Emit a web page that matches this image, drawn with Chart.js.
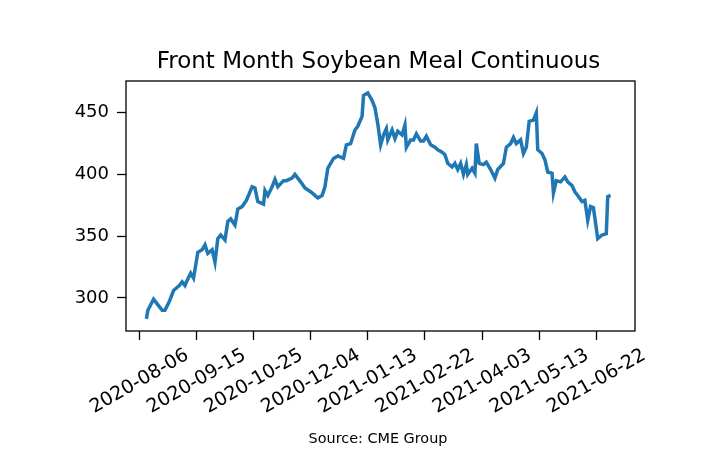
<!DOCTYPE html>
<html>
<head>
<meta charset="utf-8">
<title>Front Month Soybean Meal Continuous</title>
<script src="https://cdn.jsdelivr.net/npm/chart.js@4"></script>
<style>
  body { margin: 0; background: #fff; }
  canvas { display: block; }
</style>
</head>
<body>
<canvas id="chart" width="702" height="464"></canvas>
<script>
// days counted from 2020-08-06 (first x tick)
const dayOffsets = [
  5, 6, 10, 12, 16, 18, 21, 24, 26, 28,
  30, 32, 33, 36, 38, 41, 44, 46, 48, 51,
  53, 55, 57, 60, 62, 64, 67, 69, 72, 75,
  79, 81, 83, 87, 88, 90, 93, 95, 97, 101,
  103, 107, 109, 113, 116, 120, 123, 125, 128, 130,
  132, 136, 139, 143, 145, 148, 151, 153, 156, 157,
  160, 163, 165, 167, 169, 171, 173, 174, 177, 179,
  181, 184, 186, 187, 190, 192, 194, 197, 199, 201,
  204, 207, 209, 212, 214, 216, 219, 221, 223, 225,
  227, 229, 230, 233, 235, 236, 238, 241, 243, 246,
  249, 251, 255, 257, 260, 262, 264, 267, 269, 271,
  273, 276, 278, 279, 282, 284, 286, 289, 290, 292,
  295, 298, 300, 303, 305, 307, 310, 312, 314, 316,
  318, 321, 324, 327, 328, 330
];
const prices = [
  283, 290, 299, 296, 290, 290, 297, 306, 308, 310,
  313, 310, 313, 320, 316, 337, 339, 343, 336, 339,
  329, 348, 351, 347, 362, 364, 359, 372, 374, 379,
  390, 389, 378, 376, 387, 383, 390, 396, 390, 395,
  395, 397, 400, 394, 389, 386, 383, 381, 383, 390,
  405, 413, 415, 413, 424, 425, 436, 439, 447, 464,
  466, 460, 454, 441, 424, 432, 437, 428, 436, 429,
  435, 432, 440, 422, 428, 428, 433, 427, 427, 431,
  424, 422, 420, 418, 416, 409, 406, 409, 404, 409,
  400, 408, 400, 405, 401, 425, 409, 408, 410, 404,
  397, 404, 409, 422, 425, 430, 425, 428, 417, 422,
  443, 444, 450, 420, 417, 412, 402, 401, 385, 395,
  394, 398, 394, 391, 386, 383, 378, 379, 363, 374,
  373, 348, 351, 352, 382, 383
];
const tickDays = [0, 40, 80, 120, 160, 200, 240, 280, 320];
const tickLabels = ['2020-08-06', '2020-09-15', '2020-10-25', '2020-12-04', '2021-01-13',
  '2021-02-22', '2021-04-03', '2021-05-13', '2021-06-22'];
const yTicks = [300, 350, 400, 450];

const titleText = 'Front Month Soybean Meal Continuous';
const sourceText = 'Source: CME Group';

const captions = {
  id: 'captions',
  afterDraw(chart) {
    const { ctx, chartArea: a } = chart;
    ctx.save();
    ctx.strokeStyle = '#000';
    ctx.lineWidth = 1.3;
    ctx.strokeRect(a.left, a.top, a.right - a.left, a.bottom - a.top);
    ctx.fillStyle = '#000';
    ctx.textAlign = 'center';
    ctx.textBaseline = 'alphabetic';
    ctx.font = '23px "DejaVu Sans"';
    ctx.fillText(titleText, 378.5, 68);
    ctx.font = '14.4px "DejaVu Sans"';
    ctx.fillText(sourceText, 378, 443);
    ctx.restore();
  }
};

new Chart(document.getElementById('chart'), {
  type: 'line',
  data: {
    datasets: [{
      data: dayOffsets.map((d, i) => ({ x: d, y: prices[i] })),
      borderColor: '#1f77b4',
      borderWidth: 3.5,
      pointRadius: 0,
      tension: 0,
      fill: false
    }]
  },
  options: {
    responsive: false,
    animation: false,
    layout: { padding: { top: 81, right: 67, bottom: 0, left: 0 } },
    plugins: { legend: { display: false }, tooltip: { enabled: false } },
    scales: {
      x: {
        type: 'linear',
        min: -9.3,
        max: 347.1,
        afterBuildTicks: s => { s.ticks = tickDays.map(v => ({ value: v })); },
        afterFit: s => { s.height = 133; },
        grid: { drawOnChartArea: false, drawTicks: true, tickLength: 9, tickColor: '#000', tickWidth: 1.3 },
        border: { display: false },
        ticks: {
          minRotation: 30,
          maxRotation: 30,
          autoSkip: false,
          labelOffset: 48,
          padding: 4,
          color: '#000',
          font: { family: 'DejaVu Sans', size: 19 },
          callback: (v, i) => tickLabels[i]
        }
      },
      y: {
        min: 273.2,
        max: 475.7,
        afterBuildTicks: s => { s.ticks = yTicks.map(v => ({ value: v })); },
        afterFit: s => { s.width = 126; },
        grid: { drawOnChartArea: false, drawTicks: true, tickLength: 9, tickColor: '#000', tickWidth: 1.3 },
        border: { display: false },
        ticks: {
          padding: 8,
          color: '#000',
          font: { family: 'DejaVu Sans', size: 18 }
        }
      }
    }
  },
  plugins: [captions]
});
</script>
</body>
</html>
